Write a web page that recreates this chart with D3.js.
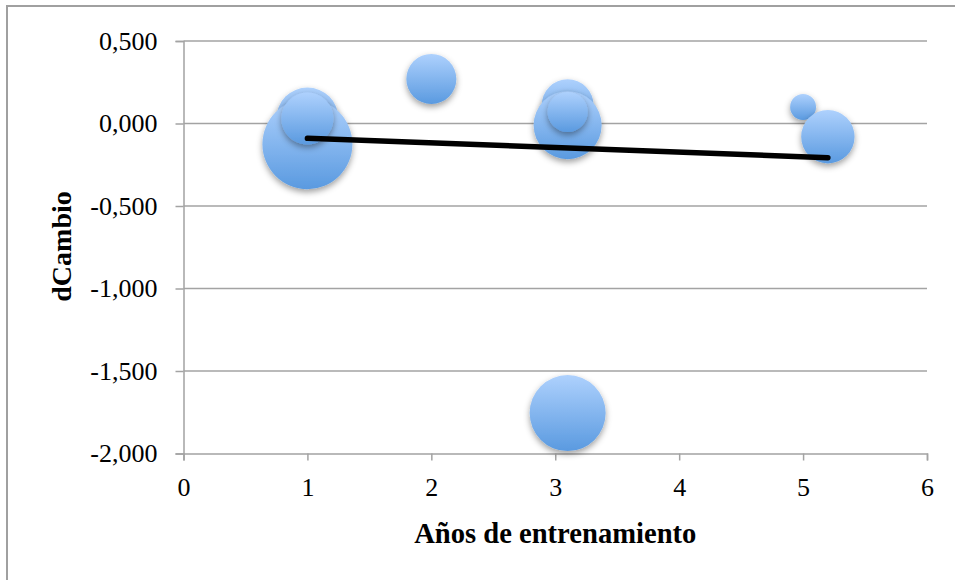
<!DOCTYPE html>
<html>
<head>
<meta charset="utf-8">
<script src="https://cdn.jsdelivr.net/npm/d3@7"></script>
<style>
  html, body { margin: 0; padding: 0; background: #fff; }
  svg { display: block; }
  text { font-family: "Liberation Serif", "Times New Roman", serif; fill: #000; }
</style>
</head>
<body>
<svg id="chart" width="955" height="580"></svg>
<script>
// Training years vs. change score, one bubble per study group
const years   = [1,     1,      1,     2,     3.1,   3.1,   3.1,   3.1,    5,     5.2];
const dChange = [0.03, -0.125,  0.03,  0.27,  0.11, -0.01,  0.07, -1.755,  0.10, -0.08];
const sizes   = [47.5,  100,    33.4,  30.9,  33.4,  57.1,  19.8,  71.3,   8.3,   35.2];

// Linear trend endpoints
const trendX = [1, 5.2];
const trendY = [-0.09, -0.207];

const xTicks = [0, 1, 2, 3, 4, 5, 6];
const yTicks = [0.5, 0, -0.5, -1, -1.5, -2];

const xTitle = "Años de entrenamiento";
const yTitle = "dCambio";

(function () {
  const svg = d3.select("#chart");
  const plotL = 183.5, plotR = 927, plotT = 41, plotB = 453.5;

  const x = d3.scaleLinear().domain([0, 6]).range([plotL, plotR]);
  const y = d3.scaleLinear().domain([-2, 0.5]).range([plotB, plotT]);
  const r = d3.scaleSqrt().domain([0, 100]).range([0, 45]);

  const fmt = v => d3.format(".3f")(v).replace("−", "-").replace(".", ",");

  const defs = svg.append("defs");
  const grad = defs.append("linearGradient")
    .attr("id", "bubbleFill").attr("x1", 0).attr("y1", 0).attr("x2", 0).attr("y2", 1);
  grad.append("stop").attr("offset", "0%").attr("stop-color", "#aed1fd");
  grad.append("stop").attr("offset", "100%").attr("stop-color", "#5a9ae0");

  const shadow = defs.append("filter").attr("id", "bubbleShadow")
    .attr("x", "-30%").attr("y", "-30%").attr("width", "160%").attr("height", "170%");
  shadow.append("feDropShadow")
    .attr("dx", 0).attr("dy", 3).attr("stdDeviation", 3)
    .attr("flood-color", "#000").attr("flood-opacity", 0.38);

  // Outer frame
  svg.append("rect")
    .attr("x", 7).attr("y", 6).attr("width", 1000).attr("height", 600)
    .attr("fill", "none").attr("stroke", "#a0a0a0").attr("stroke-width", 2);

  // Horizontal gridlines
  svg.append("g").selectAll("line").data(yTicks.filter(t => t !== -2)).join("line")
    .attr("x1", plotL).attr("x2", plotR)
    .attr("y1", d => y(d)).attr("y2", d => y(d))
    .attr("stroke", "#a3a3a3").attr("stroke-width", 1.5);

  // Y axis
  const yAxis = svg.append("g")
    .attr("transform", `translate(${plotL},0)`)
    .call(d3.axisLeft(y).tickValues(yTicks).tickSize(8).tickPadding(18).tickFormat(fmt));
  yAxis.select(".domain").attr("stroke", "#a3a3a3").attr("stroke-width", 1.5);
  yAxis.selectAll(".tick line").attr("stroke", "#a3a3a3").attr("stroke-width", 1.5);
  yAxis.selectAll(".tick text")
    .attr("font-size", 26).attr("font-family", "Liberation Serif, serif").attr("fill", "#000");

  // X axis
  const xAxis = svg.append("g")
    .attr("transform", `translate(0,${plotB})`)
    .call(d3.axisBottom(x).tickValues(xTicks).tickSize(7).tickPadding(17).tickFormat(d3.format("d")));
  xAxis.select(".domain").attr("stroke", "#a3a3a3").attr("stroke-width", 1.5);
  xAxis.selectAll(".tick line").attr("stroke", "#a3a3a3").attr("stroke-width", 1.5);
  xAxis.selectAll(".tick text")
    .attr("font-size", 26).attr("font-family", "Liberation Serif, serif").attr("fill", "#000");

  // Bubbles
  const data = years.map((v, i) => ({ x: v, y: dChange[i], s: sizes[i] }));
  svg.append("g").selectAll("circle").data(data).join("circle")
    .attr("cx", d => x(d.x)).attr("cy", d => y(d.y)).attr("r", d => r(d.s))
    .attr("fill", "url(#bubbleFill)")
    .attr("filter", "url(#bubbleShadow)");

  // Trend line
  svg.append("line")
    .attr("x1", x(trendX[0])).attr("y1", y(trendY[0]))
    .attr("x2", x(trendX[1])).attr("y2", y(trendY[1]))
    .attr("stroke", "#000").attr("stroke-width", 5.5).attr("stroke-linecap", "round");

  // Axis titles
  svg.append("text")
    .attr("x", (plotL + plotR) / 2).attr("y", 543)
    .attr("text-anchor", "middle").attr("font-size", 28.6).attr("font-weight", "bold")
    .text(xTitle);

  svg.append("text")
    .attr("transform", "translate(71,246.5) rotate(-90)")
    .attr("text-anchor", "middle").attr("font-size", 28).attr("font-weight", "bold")
    .text(yTitle);
})();
</script>
</body>
</html>
